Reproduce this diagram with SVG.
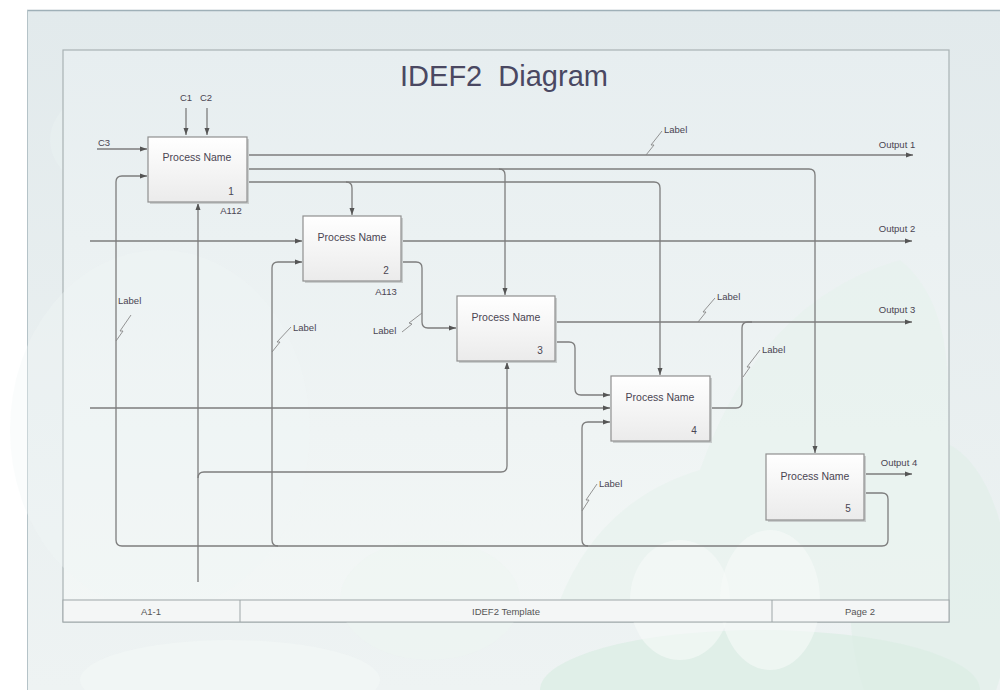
<svg xmlns="http://www.w3.org/2000/svg" width="1000" height="690" viewBox="0 0 1000 690">
<defs>
<linearGradient id="bg" x1="0" y1="0" x2="0" y2="1">
<stop offset="0" stop-color="#e2eaec"/>
<stop offset="1" stop-color="#eef3f3"/>
</linearGradient>
<linearGradient id="frame" x1="0" y1="0" x2="0" y2="1">
<stop offset="0" stop-color="#e7eef0"/>
<stop offset="1" stop-color="#f3f7f6"/>
</linearGradient>
<linearGradient id="box" x1="0" y1="0" x2="0" y2="1">
<stop offset="0" stop-color="#ffffff"/>
<stop offset="1" stop-color="#ebebeb"/>
</linearGradient>
<marker id="ah" markerWidth="8" markerHeight="6" refX="7" refY="3" orient="auto" markerUnits="userSpaceOnUse">
<path d="M0,0.5 L7,3 L0,5.5 Z" fill="#555"/>
</marker>
</defs>
<style>
.conn path{fill:none;stroke:#7d7d7d;stroke-width:1.3}
.arr{marker-end:url(#ah)}
.sq{fill:none;stroke:#888;stroke-width:0.9}
.bx{fill:url(#box);stroke:#8f8f8f;stroke-width:1.2}
.sh{fill:#c8cccc}
.pn{font-family:"Liberation Sans",Arial,sans-serif;font-size:10.5px;fill:#4a4552;text-anchor:middle}
.num{font-family:"Liberation Sans",Arial,sans-serif;font-size:10px;fill:#4a4552;text-anchor:middle}
.lb{font-family:"Liberation Sans",Arial,sans-serif;font-size:9.5px;fill:#4a4552}
.ft{font-family:"Liberation Sans",Arial,sans-serif;font-size:9.5px;fill:#555;text-anchor:middle}
</style>
<rect x="0" y="0" width="1000" height="690" fill="#ffffff"/>
<g id="background">
<rect x="27" y="10" width="973" height="680" fill="url(#bg)"/>
<line x1="27" y1="10.5" x2="1000" y2="10.5" stroke="#9fb0b8" stroke-width="1.5"/>
<line x1="27.5" y1="10" x2="27.5" y2="690" stroke="#b5c3c8" stroke-width="1"/>
<ellipse cx="140" cy="140" rx="90" ry="60" fill="#eaf1f2" opacity="0.5"/>
<ellipse cx="930" cy="600" rx="80" ry="160" fill="#dfeee8" opacity="0.6"/>
<ellipse cx="230" cy="680" rx="150" ry="40" fill="#f1f6f5" opacity="0.8"/>
<ellipse cx="760" cy="690" rx="220" ry="60" fill="#dceee5" opacity="0.8"/>
</g>
<g id="frame">
<rect x="63" y="50" width="886" height="572" fill="url(#frame)" stroke="#a9b2b4" stroke-width="1.2"/>
<ellipse cx="160" cy="430" rx="150" ry="180" fill="#f0f5f5" opacity="0.35"/>
<path d="M560,600 Q600,500 700,470 Q760,300 900,260 Q950,300 948,400 L948,600 Z" fill="#e6f2ec" opacity="0.6"/>
<ellipse cx="430" cy="600" rx="90" ry="60" fill="#eef6f2" opacity="0.5"/>
<ellipse cx="680" cy="600" rx="50" ry="60" fill="#f6faf8" opacity="0.6"/>
<ellipse cx="770" cy="600" rx="50" ry="70" fill="#f6faf8" opacity="0.6"/>
<text x="504" y="86" font-family="Liberation Sans,Arial,sans-serif" font-size="29" fill="#4a4862" text-anchor="middle" xml:space="preserve" style="white-space:pre">IDEF2  Diagram</text>
</g>
<g id="footer">
<rect x="63" y="600" width="886" height="22" fill="#f4f6f6" stroke="#9ea6a8" stroke-width="1"/>
<line x1="240" y1="600" x2="240" y2="622" stroke="#9ea6a8"/>
<line x1="772" y1="600" x2="772" y2="622" stroke="#9ea6a8"/>
<text class="ft" x="151" y="615">A1-1</text>
<text class="ft" x="506" y="615">IDEF2 Template</text>
<text class="ft" x="860" y="615">Page 2</text>
</g>
<g class="conn" id="connectors">
<path class="arr" d="M247,155 H913"/>
<path class="arr" d="M247,169 H809 Q815,169 815,175 V453"/>
<path class="arr" d="M499,169 Q505,169 505,175 V295"/>
<path class="arr" d="M247,182 H654 Q660,182 660,188 V375"/>
<path class="arr" d="M346,182 Q352,182 352,188 V215"/>
<path class="arr" d="M186,108 V135"/>
<path class="arr" d="M207,108 V135"/>
<path class="arr" d="M97,149 H147"/>
<path class="arr" d="M864,493 H882 Q888,493 888,499 V540 Q888,546 882,546 H122 Q116,546 116,540 V182 Q116,176 122,176 H147"/>
<path class="arr" d="M278,546 Q272,546 272,540 V268 Q272,262 278,262 H302"/>
<path class="arr" d="M588,546 Q582,546 582,540 V428 Q582,422 588,422 H610"/>
<path class="arr" d="M198,582 V203"/>
<path class="arr" d="M198,478 Q198,472 204,472 H501 Q507,472 507,466 V362"/>
<path class="arr" d="M90,241 H302"/>
<path class="arr" d="M401,241 H912"/>
<path class="arr" d="M401,262 H416 Q422,262 422,268 V322 Q422,328 428,328 H456"/>
<path class="arr" d="M555,322 H912"/>
<path class="arr" d="M555,342 H569 Q575,342 575,348 V389 Q575,395 581,395 H610"/>
<path class="arr" d="M90,408 H610"/>
<path d="M710,408 H736 Q742,408 742,402 V328 Q742,322 748,322 H752"/>
<path class="arr" d="M864,474 H912"/>
</g>
<g id="labels">
<path class="sq" d="M646,155 L654,145 L651,145 L662,131"/>
<text class="lb" x="664" y="133">Label</text>
<path class="sq" d="M698,322 L706,312 L703,312 L715,298"/>
<text class="lb" x="717" y="300">Label</text>
<path class="sq" d="M743,377 L750,367 L747,367 L760,350"/>
<text class="lb" x="762" y="353">Label</text>
<path class="sq" d="M116,341 L123,331 L120,331 L131,315"/>
<text class="lb" x="118" y="304">Label</text>
<path class="sq" d="M272,352 L280,342 L277,342 L291,327"/>
<text class="lb" x="293" y="331">Label</text>
<path class="sq" d="M402,332 L412,324 L409,323 L422,313"/>
<text class="lb" x="373" y="334">Label</text>
<path class="sq" d="M582,511 L589,500 L586,500 L597,484"/>
<text class="lb" x="599" y="487">Label</text>
<text class="lb" x="186" y="101" text-anchor="middle">C1</text>
<text class="lb" x="206" y="101" text-anchor="middle">C2</text>
<text class="lb" x="104" y="146" text-anchor="middle">C3</text>
<text class="lb" x="897" y="148" text-anchor="middle">Output 1</text>
<text class="lb" x="897" y="232" text-anchor="middle">Output 2</text>
<text class="lb" x="897" y="313" text-anchor="middle">Output 3</text>
<text class="lb" x="899" y="466" text-anchor="middle">Output 4</text>
</g>
<g id="node1">
<rect class="sh" x="150" y="139" width="99" height="65"/>
<rect class="bx" x="148" y="137" width="99" height="65"/>
<text class="pn" x="197" y="161">Process Name</text>
<text class="num" x="231" y="195">1</text>
<text class="lb" x="231" y="214" text-anchor="middle">A112</text>
</g>
<g id="node2">
<rect class="sh" x="305" y="218" width="98" height="65"/>
<rect class="bx" x="303" y="216" width="98" height="65"/>
<text class="pn" x="352" y="241">Process Name</text>
<text class="num" x="386" y="274">2</text>
<text class="lb" x="386" y="295" text-anchor="middle">A113</text>
</g>
<g id="node3">
<rect class="sh" x="459" y="298" width="98" height="65"/>
<rect class="bx" x="457" y="296" width="98" height="65"/>
<text class="pn" x="506" y="321">Process Name</text>
<text class="num" x="540" y="354">3</text>
</g>
<g id="node4">
<rect class="sh" x="613" y="378" width="99" height="65"/>
<rect class="bx" x="611" y="376" width="99" height="65"/>
<text class="pn" x="660" y="401">Process Name</text>
<text class="num" x="694" y="434">4</text>
</g>
<g id="node5">
<rect class="sh" x="768" y="456" width="98" height="66"/>
<rect class="bx" x="766" y="454" width="98" height="66"/>
<text class="pn" x="815" y="480">Process Name</text>
<text class="num" x="848" y="512">5</text>
</g>
</svg>
